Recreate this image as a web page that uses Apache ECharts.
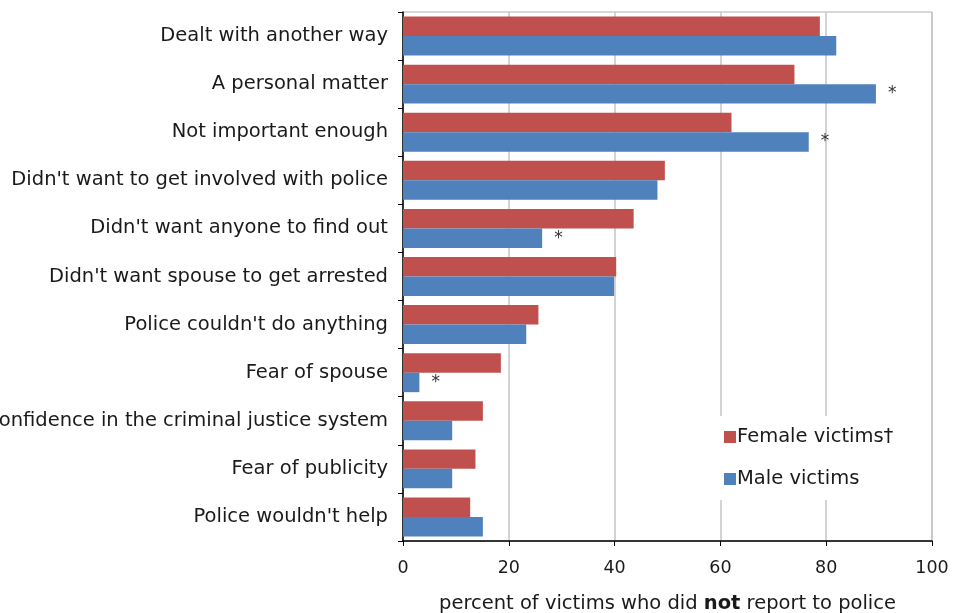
<!DOCTYPE html>
<html><head><meta charset="utf-8">
<script src="https://cdn.jsdelivr.net/npm/echarts@6/dist/echarts.min.js"></script>
<style>html,body{margin:0;padding:0;background:#fff}#c{width:953px;height:613px}</style>
</head><body><div id="c"></div>
<script>
var categories = ["Dealt with another way","A personal matter","Not important enough","Didn't want to get involved with police","Didn't want anyone to find out","Didn't want spouse to get arrested","Police couldn't do anything","Fear of spouse","Lack of confidence in the criminal justice system","Fear of publicity","Police wouldn't help"];
var femaleValues = [78.8, 74.0, 62.1, 49.5, 43.6, 40.3, 25.6, 18.5, 15.1, 13.7, 12.7];
var maleValues = [81.9, 89.4, 76.7, 48.1, 26.3, 39.9, 23.3, 3.1, 9.3, 9.3, 15.1];
var maleSignificant = [false, true, true, false, true, false, false, true, false, false, false];
var xTicks = [0, 20, 40, 60, 80, 100];

var FONT = "DejaVu Sans";
var chart = echarts.init(document.getElementById('c'), null, {renderer:'canvas'});
chart.setOption({
  animation: false,
  textStyle: {fontFamily: FONT},
  grid: {left: 403, right: 21, top: 12, bottom: 72, containLabel: false, outerBoundsMode: 'none',
         show: true, borderColor: '#b0b0b0', borderWidth: 1, z: 0},
  legend: {
    orient: 'vertical', left: 714, top: 416, itemWidth: 12, itemHeight: 12, itemGap: 22,
    backgroundColor: '#fff', padding: [11, 8, 11, 10],
    icon: 'rect',
    textStyle: {fontFamily: FONT, fontSize: 19.5, color: '#1a1a1a', padding: [0,0,0,-4]},
    data: ['Female victims\u2020', 'Male victims']
  },
  xAxis: {
    type: 'value', min: 0, max: 100, interval: 20,
    axisLine: {show: true, lineStyle: {color: '#000', width: 1.5}},
    axisTick: {show: true, length: 5, lineStyle: {color: '#000'}},
    axisLabel: {fontFamily: FONT, fontSize: 17.5, color: '#1a1a1a', margin: 18,
      formatter: function(v){ return xTicks.indexOf(v) >= 0 ? String(v) : ''; }},
    splitLine: {show: true, lineStyle: {color: '#c4c4c4', width: 1.5}},
    name: 'percent of victims who did {b|not} report to police',
    nameLocation: 'middle', nameGap: 53,
    nameTextStyle: {fontFamily: FONT, fontSize: 19.5, color: '#1a1a1a',
      rich: {b: {fontFamily: FONT, fontSize: 19.5, fontWeight: 'bold', color: '#1a1a1a'}}}
  },
  yAxis: {
    type: 'category', data: categories, inverse: true,
    axisLine: {show: true, lineStyle: {color: '#000', width: 1.5}},
    axisTick: {show: true, length: 5, lineStyle: {color: '#000'}},
    axisLabel: {fontFamily: FONT, fontSize: 19.5, color: '#1a1a1a', margin: 15}
  },
  series: [
    {name: 'Female victims\u2020', type: 'bar', data: femaleValues, barGap: '0%', barCategoryGap: '19%',
     itemStyle: {color: '#c0504d'}},
    {name: 'Male victims', type: 'bar', data: maleValues, barGap: '0%', barCategoryGap: '19%',
     itemStyle: {color: '#4f81bd'},
     label: {show: true, position: 'right', distance: 12, fontFamily: FONT, fontSize: 17, color: '#333',
       formatter: function(p){ return maleSignificant[p.dataIndex] ? '*' : ''; }}}
  ]
});
</script></body></html>
